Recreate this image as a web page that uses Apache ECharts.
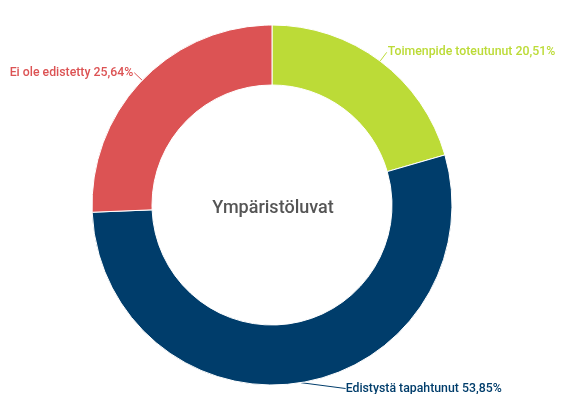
<!DOCTYPE html>
<html>
<head>
<meta charset="utf-8">
<script src="https://cdn.jsdelivr.net/npm/echarts@6/dist/echarts.min.js"></script>
<style>
  html, body { margin: 0; padding: 0; background: #fff; }
  #chart { width: 562px; height: 394px; }
</style>
</head>
<body>
<div id="chart"></div>
<script>
// Status breakdown of environmental permits
const categories = ['Toimenpide toteutunut', 'Edistystä tapahtunut', 'Ei ole edistetty'];
const counts = [8, 21, 10];
const colors = ['#bcdb37', '#003d6b', '#dc5354'];
const centerTitle = 'Ympäristöluvat';

const total = counts.reduce((a, b) => a + b, 0);
const fmtPct = v => (v / total * 100).toFixed(2).replace('.', ',') + '%';

const chart = echarts.init(document.getElementById('chart'));
chart.setOption({
  animation: false,
  graphic: [{
    type: 'text',
    x: 273,
    y: 208,
    style: {
      text: centerTitle,
      align: 'center',
      verticalAlign: 'middle',
      fontFamily: 'Roboto',
      fontSize: 18,
      fontWeight: 500,
      fill: '#555'
    }
  }],
  series: [{
    type: 'pie',
    center: [272, 205],
    radius: [120, 180],
    startAngle: 90,
    clockwise: true,
    avoidLabelOverlap: false,
    itemStyle: { borderColor: '#fff', borderWidth: 1 },
    label: {
      show: true,
      fontFamily: 'Roboto',
      fontSize: 12.3,
      fontWeight: 500,
      distanceToLabelLine: 1,
      formatter: p => p.name + ' ' + fmtPct(p.value)
    },
    labelLine: { show: true, length: 11, length2: 0, lineStyle: { width: 1 } },
    // the bottom label would run off the canvas, so shift it up and right;
    // setting x/y lets the label line be re-routed to the moved text
    labelLayout: p => {
      if (p.dataIndex !== 1) return {};
      const r = p.labelRect;
      return { x: r.x + 42, y: r.y + r.height / 2 - 5 };
    },
    data: categories.map((name, i) => ({
      name,
      value: counts[i],
      itemStyle: { color: colors[i] },
      label: { color: colors[i] },
      labelLine: { lineStyle: { color: colors[i] } }
    }))
  }]
});
</script>
</body>
</html>
